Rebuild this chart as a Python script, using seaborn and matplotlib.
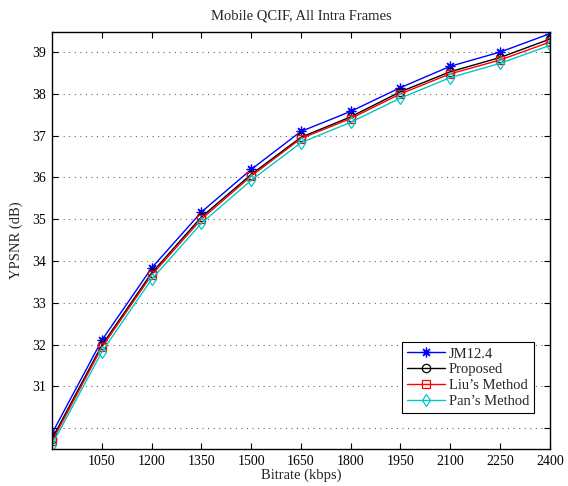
import matplotlib
matplotlib.use("Agg")
import matplotlib.pyplot as plt
import seaborn as sns
import pandas as pd

bitrate = [900, 1050, 1200, 1350, 1500, 1650, 1800, 1950, 2100, 2250, 2400]
jm124 = [29.87, 32.10, 33.83, 35.17, 36.19, 37.10, 37.58, 38.15, 38.66, 39.00, 39.44]
proposed = [29.74, 31.98, 33.71, 35.05, 36.07, 36.96, 37.45, 38.05, 38.53, 38.87, 39.31]
liu = [29.68, 31.93, 33.66, 35.00, 36.03, 36.93, 37.41, 38.00, 38.48, 38.81, 39.24]
pan = [29.60, 31.82, 33.56, 34.90, 35.93, 36.83, 37.32, 37.90, 38.39, 38.73, 39.16]

series_names = ["JM12.4", "Proposed", "Liu\u2019s Method", "Pan\u2019s Method"]
series_values = [jm124, proposed, liu, pan]
xticks = [1050, 1200, 1350, 1500, 1650, 1800, 1950, 2100, 2250, 2400]
yticks = [30, 31, 32, 33, 34, 35, 36, 37, 38, 39]
ytick_labels = ["", "31", "32", "33", "34", "35", "36", "37", "38", "39"]

colors = ["#0000FF", "#000000", "#FF0000", "#00C8C8"]
markers = [(8, 2, 0), "o", "s", "d"]
msizes = [7, 6, 6, 6]

sns.set_theme(style="white")
plt.rcParams["font.family"] = ["Liberation Serif", "DejaVu Serif"]

fig = plt.figure(figsize=(5.68, 4.86), dpi=100)
ax = fig.add_axes([0.0915, 0.0761, 0.8765, 0.858])

for name, vals, c, m, ms in zip(series_names, series_values, colors, markers, msizes):
    df = pd.DataFrame({"Bitrate": bitrate, "YPSNR": vals})
    sns.lineplot(data=df, x="Bitrate", y="YPSNR", ax=ax, color=c, marker=m,
                 markersize=ms, markerfacecolor="none",
                 markeredgecolor=c, markeredgewidth=0.9, linewidth=1.0,
                 label=name)

ax.set_xlim(900, 2400)
ax.set_ylim(29.5, 39.48)
ax.set_xticks(xticks)
ax.set_xticklabels([str(t) for t in xticks], fontsize=10)
ax.set_yticks(yticks)
ax.set_yticklabels(ytick_labels, fontsize=10)
ax.grid(True, axis="y", linestyle=(0, (1, 4)), color="#666666", linewidth=0.8)
ax.grid(False, axis="x")
ax.tick_params(direction="in", length=4, top=True, right=True, bottom=True, left=True,
               colors="black", labelcolor="black", width=0.8, pad=4)
for s in ax.spines.values():
    s.set_visible(True)
    s.set_color("black")
    s.set_linewidth(1.0)

ax.set_title("Mobile QCIF, All Intra Frames", fontsize=10.5, pad=9)
ax.set_xlabel("Bitrate (kbps)", fontsize=10.5, labelpad=1)
ax.set_ylabel("YPSNR (dB)", fontsize=10.5, labelpad=7)

leg = ax.legend(loc="lower right", bbox_to_anchor=(0.969, 0.086), fontsize=10.5,
                frameon=True, fancybox=False, edgecolor="black", framealpha=1,
                borderpad=0.35, labelspacing=0.18, handlelength=2.6, handletextpad=0.3,
                borderaxespad=0)
leg.get_frame().set_linewidth(0.8)

fig.savefig("out.png", dpi=100)
